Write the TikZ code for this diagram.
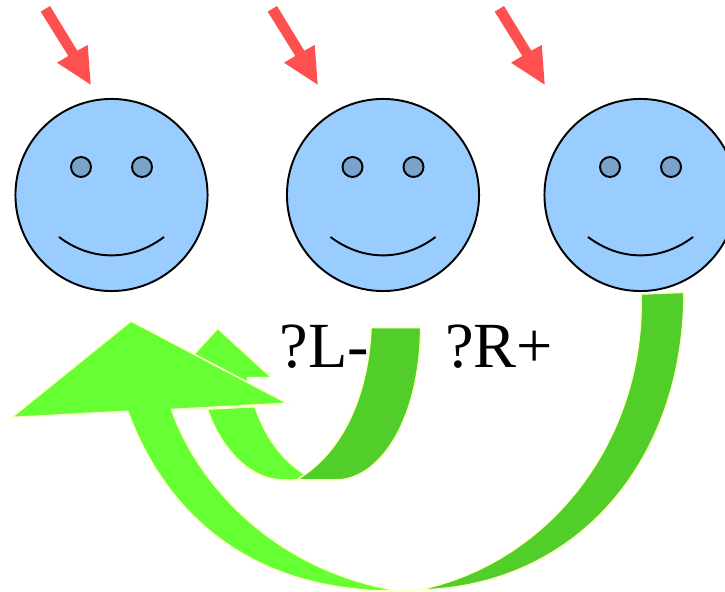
\documentclass[tikz,border=0pt]{standalone}
\usepackage{fontspec}
\setmainfont{Liberation Serif}
\definecolor{FaceBlue}{HTML}{99CCFF}
\definecolor{EyeBlue}{HTML}{7AA3CC}
\definecolor{PointerRed}{HTML}{FF5050}
\definecolor{SwingLight}{HTML}{66FF33}
\definecolor{SwingDark}{HTML}{52CE2B}
\definecolor{SwingEdge}{HTML}{FFFFCC}
\usetikzlibrary{positioning}
\tikzset{
    % Face parts
    face/.style={
        circle,
        draw=black,
        fill=FaceBlue,
        line width=0.55pt,
        minimum size=1.92cm,
        inner sep=0pt
    },
    eye/.style={
        circle,
        draw=black,
        fill=EyeBlue,
        line width=0.55pt,
        minimum size=0.2cm,
        inner sep=0pt
    },
    smile/.style={
        draw=black,
        line width=0.55pt
    },
    pointer/.style={
        fill=PointerRed
    },
    % Curved block arrows
    swing light/.style={
        fill=SwingLight,
        draw=SwingEdge,
        line width=0.45pt
    },
    swing dark/.style={
        fill=SwingDark,
        draw=SwingEdge,
        line width=0.45pt
    },
    sign/.style={
        anchor=base west,
        inner sep=0pt,
        font=\fontsize{18.3}{22}\selectfont
    }
}
\begin{document}
\begin{tikzpicture}[x=0.01cm, y=-0.01cm]
        \useasboundingbox (0, 0) rectangle (725, 592);

        % Faces and the red pointers above them
        \foreach \name/\cx/\px in {left/111.5/0, middle/383/227, right/640.5/454} {
            \node[face] (\name) at (\cx, 195) {};
            \node[eye] (\name eye a) at (\cx-30.5, 167) {};
            \node[eye] (\name eye b) at (\cx+30.5, 167) {};
            \draw[smile] (\cx-52.5, 237) .. controls (\cx-20, 261.5) and (\cx+20, 261.5) .. (\cx+52.5, 237);
            \fill[pointer, xshift=\px*0.01cm] (40.7, 11.7) -- (50, 6) -- (77.3, 50.7) -- (87.7, 45)
                -- (90.7, 84.7) -- (57, 62.7) -- (68.3, 56) -- cycle;
        }

        % Labels
        \node[sign] (minus) at (279, 367.7) {?L-};
        \node[sign] (plus) at (444.5, 367.7) {?R+};

        % Short arrow, head first
        \draw[swing light] (217.7, 328.3) -- (271.7, 377.7) -- (247.7, 377.7) -- (247.7, 395) -- (185, 364) -- cycle;
        \draw[swing light] (207.3, 409) .. controls (222, 452) and (252, 480) .. (283, 480)
            -- (297, 480) -- (305, 474.3) .. controls (282, 460) and (266, 438) .. (255, 406.7) -- cycle;
        \draw[swing dark] (420.7, 327.7) .. controls (420, 420) and (380, 480) .. (336, 480)
            -- (297, 480) -- (305, 474.3) .. controls (340, 450) and (368, 400) .. (371, 327.7) -- cycle;

        % Long arrow
        \draw[swing light] (127.7, 411.3) .. controls (167, 518) and (255, 593) .. (400, 591)
            .. controls (280, 572) and (200, 490) .. (171.5, 409.5)
            -- (287.5, 403.3) -- (131, 321) -- (11.5, 417.5) -- cycle;
        \draw[swing dark] (684, 292.3) .. controls (684, 460) and (578, 586) .. (420, 590)
            -- (400, 591) -- (420, 589.5) .. controls (550, 562) and (645, 440) .. (641, 294) -- cycle;
    \end{tikzpicture}
\end{document}
